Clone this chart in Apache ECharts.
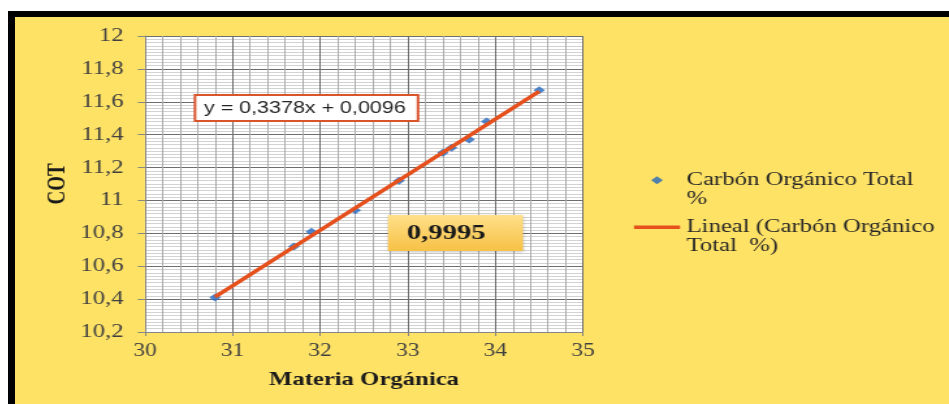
<!DOCTYPE html>
<html>
<head>
<meta charset="utf-8">
<script src="https://cdn.jsdelivr.net/npm/echarts@6/dist/echarts.min.js"></script>
<style>
  html, body { margin: 0; padding: 0; background: #fff; width: 949px; height: 404px; overflow: hidden; }
  #frame { position: absolute; left: 8px; top: 11px; width: 941px; height: 393px; background: #000; }
  /* the chart is laid out narrower and widened horizontally */
  #chart { position: absolute; left: 15px; top: 17px; width: 718px; height: 387px;
           transform: scaleX(1.3008); transform-origin: 0 0; }
</style>
</head>
<body>
<div id="frame"></div>
<div id="chart"></div>
<script>
// Materia Orgánica (x) vs Carbón Orgánico Total % (y)
const materiaOrganica = [30.8, 31.7, 31.9, 32.4, 32.9, 33.4, 33.5, 33.7, 33.9, 34.5];
const carbonOrganico  = [10.41, 10.72, 10.81, 10.94, 11.12, 11.29, 11.32, 11.37, 11.48, 11.67];

// linear fit as printed on the chart
const slope = 0.3378;
const intercept = 0.0096;
const r2Label = '0,9995';
const eqLabel = 'y = 0,3378x + 0,0096';

const seriesPoints = 'Carbón Orgánico Total %';
const seriesTrend = 'Lineal (Carbón Orgánico Total  %)';

const xTicks = { min: 30, max: 35, interval: 1 };
const yTicks = { min: 10.2, max: 12, interval: 0.2 };

const SX = 934 / 718;                    // horizontal widening factor
const px = x => (x - 15) / SX;           // page x -> chart x
const py = y => y - 17;                  // page y -> chart y

const points = materiaOrganica.map((x, i) => [x, carbonOrganico[i]]);
const xLo = Math.min(...materiaOrganica), xHi = Math.max(...materiaOrganica);
const trend = [[xLo, slope * xLo + intercept], [xHi, slope * xHi + intercept]];

const fmt = v => String(Math.round(v * 10) / 10).replace('.', ',');
const serif = '"Liberation Serif", "Times New Roman", serif';
const pointColor = '#2468BE';
const trendColor = '#E5501C';

const legendText = { fontFamily: serif, fontSize: 19, lineHeight: 18.5, color: '#262626' };
// small diamond centred in the wide legend swatch (end points only set the swatch extent)
const legendDiamond = 'path://M0,4L0,4M17.7,0L22.2,4L17.7,8L13.2,4ZM35.4,4L35.4,4';

const chart = echarts.init(document.getElementById('chart'), null, { renderer: 'canvas' });
chart.setOption({
  animation: false,
  backgroundColor: '#FEE265',
  grid: {
    left: px(145), right: 718 - px(583), top: py(36), bottom: 387 - py(332),
    show: true, backgroundColor: '#ffffff', borderWidth: 0
  },
  xAxis: {
    type: 'value', min: xTicks.min, max: xTicks.max, interval: xTicks.interval,
    name: 'Materia Orgánica', nameLocation: 'middle', nameGap: 39,
    nameTextStyle: { fontFamily: serif, fontWeight: 'bold', fontSize: 19, color: '#1a1a1a' },
    axisLine: { show: true, lineStyle: { color: '#868686', width: 1 } },
    axisTick: { show: true, length: 4, lineStyle: { color: '#868686' } },
    axisLabel: { fontFamily: serif, fontSize: 18, color: '#404040', margin: 10, formatter: fmt },
    splitLine: { show: true, lineStyle: { color: '#6e6e6e', width: 1 } },
    minorTick: { show: false, splitNumber: 5 },
    minorSplitLine: { show: true, lineStyle: { color: '#ababab', width: 1 } }
  },
  yAxis: {
    type: 'value', min: yTicks.min, max: yTicks.max, interval: yTicks.interval,
    name: 'COT', nameLocation: 'middle', nameGap: 57, nameRotate: 90,
    nameTextStyle: { fontFamily: serif, fontWeight: 'bold', fontSize: 19, color: '#1a1a1a' },
    axisLine: { show: true, lineStyle: { color: '#868686', width: 1 } },
    axisTick: { show: true, length: 5.5, lineStyle: { color: '#868686' } },
    axisLabel: { fontFamily: serif, fontSize: 19, color: '#404040', margin: 16.5, formatter: fmt },
    splitLine: { show: true, lineStyle: { color: '#6e6e6e', width: 1 } },
    minorTick: { show: false, splitNumber: 10 },
    minorSplitLine: { show: true, lineStyle: { color: '#d2d2d2', width: 1 } }
  },
  legend: [
    {
      data: [{ name: seriesPoints, icon: legendDiamond, itemStyle: { color: pointColor } }],
      left: px(634), top: py(180) - 27.75, padding: 0,
      itemWidth: 35.4, itemHeight: 8, itemGap: 0, selectedMode: false,
      // blank first line keeps the marker level with the first text line
      formatter: () => '\nCarbón Orgánico Total\n%',
      textStyle: legendText
    },
    {
      data: [{ name: seriesTrend, icon: 'rect', itemStyle: { color: trendColor } }],
      left: px(634), top: py(227) - 27.75, padding: 0,
      itemWidth: 35.4, itemHeight: 3.5, itemGap: 0, selectedMode: false,
      formatter: () => '\nLineal (Carbón Orgánico\nTotal  %)',
      textStyle: legendText
    }
  ],
  series: [
    {
      name: seriesPoints, type: 'scatter', data: points,
      symbol: 'diamond', symbolSize: [9, 8],
      itemStyle: { color: pointColor }, z: 3
    },
    {
      name: seriesTrend, type: 'line', data: trend,
      symbol: 'none', lineStyle: { color: trendColor, width: 3.5 }, z: 4
    }
  ],
  graphic: [
    { type: 'rect', z: 100, shape: { x: px(195), y: py(95), width: (418 - 195) / SX, height: 26 },
      style: { fill: '#ffffff', stroke: '#D9532B', lineWidth: 2 } },
    { type: 'text', z: 101, style: { x: px(204), y: py(108), text: eqLabel, fill: '#262626',
      font: '16.5px "Liberation Sans", Arial, sans-serif', verticalAlign: 'middle' } },
    { type: 'rect', z: 100, shape: { x: px(388), y: py(215), width: (523 - 388) / SX, height: 36 },
      style: {
        fill: { type: 'linear', x: 0, y: 0, x2: 0, y2: 1,
          colorStops: [{ offset: 0, color: '#FFE08A' }, { offset: 1, color: '#F7C145' }] },
        shadowBlur: 3, shadowColor: 'rgba(0,0,0,0.25)', shadowOffsetY: 1
      } },
    { type: 'text', z: 101, style: { x: px(407), y: py(233), text: r2Label, fill: '#1a1a1a',
      font: 'bold 22px "Liberation Serif", "Times New Roman", serif', verticalAlign: 'middle' } }
  ]
});
</script>
</body>
</html>
